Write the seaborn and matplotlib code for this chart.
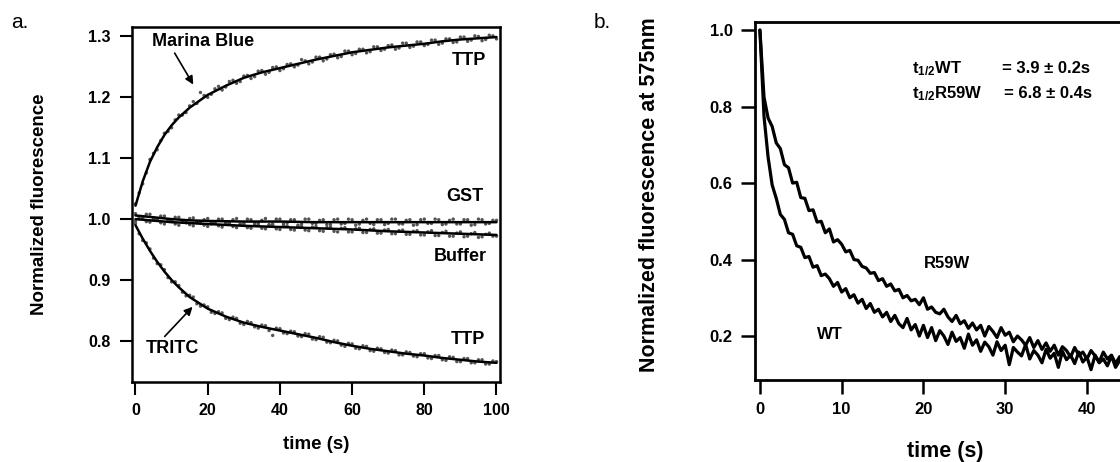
import numpy as np
import pandas as pd
import matplotlib
matplotlib.use("Agg")
import matplotlib.pyplot as plt
import seaborn as sns
from matplotlib.ticker import FormatStrFormatter

# ---------------- Panel a data ----------------
fit_t = [0, 2, 4, 6, 8, 10, 12, 15, 20, 25, 30, 35, 40, 45, 50, 55, 60, 65, 70, 75, 80, 85, 90, 95, 100]
marina_fit = [1.022, 1.062, 1.094, 1.118, 1.138, 1.154, 1.167, 1.183, 1.204, 1.219, 1.232, 1.241, 1.248,
              1.255, 1.262, 1.268, 1.274, 1.278, 1.282, 1.285, 1.288, 1.292, 1.295, 1.297, 1.299]
tritc_fit = [0.990, 0.968, 0.948, 0.930, 0.914, 0.900, 0.888, 0.872, 0.853, 0.840, 0.830, 0.823, 0.817,
             0.811, 0.805, 0.798, 0.792, 0.787, 0.783, 0.779, 0.776, 0.772, 0.769, 0.766, 0.764]
gst_t = [0, 5, 10, 15, 20, 30, 40, 50, 60, 70, 80, 90, 100]
gst_fit = [1.006, 1.003, 1.000, 0.998, 0.997, 0.996, 0.996, 0.995, 0.995, 0.995, 0.995, 0.995, 0.995]
buffer_t = [0, 10, 20, 30, 40, 50, 60, 70, 80, 90, 100]
buffer_fit = [1.000, 0.995, 0.992, 0.989, 0.987, 0.985, 0.983, 0.980, 0.978, 0.976, 0.974]

dot_t_even = list(range(0, 101, 2))
dot_t_odd = list(range(1, 100, 2))
marina_dots_even = [1.025, 1.058, 1.098, 1.114, 1.141, 1.150, 1.171, 1.175, 1.193, 1.208,
                    1.200, 1.214, 1.212, 1.226, 1.223, 1.235, 1.231, 1.243, 1.238, 1.249,
                    1.244, 1.254, 1.250, 1.262, 1.255, 1.266, 1.260, 1.270, 1.265, 1.276,
                    1.270, 1.279, 1.273, 1.283, 1.277, 1.285, 1.279, 1.289, 1.282, 1.291,
                    1.285, 1.294, 1.287, 1.296, 1.290, 1.299, 1.292, 1.301, 1.293, 1.302, 1.296]
marina_dots_odd = [1.043, 1.076, 1.108, 1.129, 1.144, 1.163, 1.171, 1.186, 1.190, 1.203,
                   1.205, 1.218, 1.217, 1.228, 1.226, 1.236, 1.234, 1.244, 1.241, 1.250,
                   1.247, 1.255, 1.253, 1.260, 1.258, 1.266, 1.263, 1.271, 1.267, 1.276,
                   1.272, 1.279, 1.275, 1.283, 1.279, 1.286, 1.281, 1.289, 1.284, 1.291,
                   1.287, 1.294, 1.289, 1.296, 1.291, 1.299, 1.294, 1.300, 1.295, 1.301]
tritc_dots_even = [0.993, 0.965, 0.951, 0.927, 0.917, 0.897, 0.891, 0.874, 0.872, 0.857,
                   0.856, 0.845, 0.846, 0.835, 0.837, 0.827, 0.830, 0.821, 0.825, 0.809,
                   0.820, 0.812, 0.815, 0.807, 0.811, 0.802, 0.806, 0.797, 0.800, 0.791,
                   0.795, 0.787, 0.791, 0.783, 0.787, 0.780, 0.784, 0.777, 0.781, 0.774,
                   0.779, 0.771, 0.776, 0.768, 0.773, 0.766, 0.771, 0.764, 0.769, 0.762, 0.766]
tritc_dots_odd = [0.976, 0.961, 0.936, 0.925, 0.904, 0.897, 0.880, 0.875, 0.861, 0.859,
                  0.847, 0.848, 0.837, 0.839, 0.829, 0.832, 0.823, 0.826, 0.817, 0.821,
                  0.813, 0.816, 0.808, 0.812, 0.803, 0.807, 0.798, 0.801, 0.793, 0.796,
                  0.788, 0.792, 0.784, 0.788, 0.781, 0.785, 0.777, 0.782, 0.775, 0.779,
                  0.772, 0.776, 0.769, 0.774, 0.766, 0.771, 0.764, 0.769, 0.762, 0.767]
gst_dots_even = [1.009, 1.002, 1.008, 0.999, 1.005, 0.996, 1.003, 0.994, 1.002, 0.993,
                 1.001, 0.994, 1.000, 0.993, 1.001, 0.992, 0.999, 0.993, 1.001, 0.992,
                 1.000, 0.994, 0.999, 0.992, 1.000, 0.993, 0.999, 0.991, 1.000, 0.993,
                 0.999, 0.992, 1.000, 0.991, 0.999, 0.993, 1.000, 0.992, 0.999, 0.991,
                 1.000, 0.993, 0.999, 0.992, 1.000, 0.992, 0.999, 0.991, 0.999, 0.993, 0.998]
gst_dots_odd = [1.004, 1.008, 1.001, 1.005, 0.997, 1.003, 0.995, 1.001, 0.994, 0.999,
                0.992, 1.000, 0.993, 0.999, 0.991, 1.000, 0.993, 0.998, 0.991, 1.000,
                0.992, 0.999, 0.990, 1.000, 0.993, 0.998, 0.991, 0.999, 0.992, 1.000,
                0.990, 0.998, 0.993, 0.999, 0.991, 1.000, 0.992, 0.998, 0.990, 0.999,
                0.993, 1.000, 0.991, 0.998, 0.992, 0.999, 0.990, 1.000, 0.992, 0.998]
buffer_dots_even = [0.997, 1.003, 0.995, 1.000, 0.992, 0.998, 0.990, 0.996, 0.989, 0.995,
                    0.988, 0.994, 0.987, 0.993, 0.986, 0.992, 0.985, 0.991, 0.984, 0.990,
                    0.983, 0.989, 0.982, 0.988, 0.981, 0.988, 0.980, 0.987, 0.979, 0.986,
                    0.979, 0.985, 0.978, 0.984, 0.977, 0.983, 0.976, 0.982, 0.975, 0.981,
                    0.974, 0.981, 0.973, 0.980, 0.972, 0.979, 0.972, 0.978, 0.971, 0.977, 0.972]
buffer_dots_odd = [1.001, 0.996, 0.999, 0.994, 0.998, 0.992, 0.997, 0.991, 0.995, 0.990,
                   0.994, 0.989, 0.993, 0.988, 0.992, 0.986, 0.991, 0.985, 0.990, 0.984,
                   0.989, 0.983, 0.988, 0.982, 0.987, 0.981, 0.986, 0.980, 0.985, 0.979,
                   0.984, 0.978, 0.983, 0.977, 0.982, 0.976, 0.981, 0.975, 0.980, 0.974,
                   0.979, 0.973, 0.978, 0.972, 0.977, 0.971, 0.976, 0.970, 0.975, 0.972]
a_yticks = [0.8, 0.9, 1.0, 1.1, 1.2, 1.3]
a_xticks = [0, 20, 40, 60, 80, 100]

# ---------------- Panel b data ----------------
trace_t = list(np.arange(0, 50, 0.5))
wt_trace = [1.000, 0.775, 0.668, 0.595, 0.560, 0.518, 0.505, 0.470, 0.466, 0.436,
            0.432, 0.405, 0.408, 0.380, 0.384, 0.358, 0.362, 0.350, 0.330, 0.340,
            0.315, 0.324, 0.300, 0.308, 0.286, 0.296, 0.272, 0.285, 0.262, 0.270,
            0.250, 0.262, 0.238, 0.254, 0.232, 0.222, 0.246, 0.216, 0.230, 0.200,
            0.228, 0.196, 0.222, 0.188, 0.214, 0.200, 0.178, 0.210, 0.186, 0.196,
            0.168, 0.205, 0.176, 0.190, 0.160, 0.184, 0.172, 0.150, 0.185, 0.162,
            0.176, 0.125, 0.170, 0.158, 0.148, 0.178, 0.140, 0.162, 0.150, 0.130,
            0.165, 0.142, 0.155, 0.118, 0.160, 0.138, 0.150, 0.128, 0.158, 0.132,
            0.145, 0.112, 0.150, 0.130, 0.140, 0.122, 0.148, 0.118, 0.136, 0.142,
            0.115, 0.138, 0.126, 0.110, 0.140, 0.122, 0.130, 0.112, 0.134, 0.120]
r59w_trace = [1.000, 0.825, 0.770, 0.748, 0.705, 0.690, 0.648, 0.640, 0.600, 0.602,
              0.562, 0.560, 0.528, 0.530, 0.498, 0.500, 0.470, 0.480, 0.446, 0.452,
              0.440, 0.420, 0.424, 0.400, 0.398, 0.382, 0.378, 0.364, 0.366, 0.345,
              0.350, 0.330, 0.336, 0.318, 0.322, 0.300, 0.306, 0.292, 0.296, 0.282,
              0.300, 0.270, 0.276, 0.262, 0.258, 0.270, 0.250, 0.238, 0.254, 0.232,
              0.240, 0.220, 0.234, 0.216, 0.228, 0.200, 0.225, 0.212, 0.196, 0.222,
              0.202, 0.210, 0.185, 0.200, 0.190, 0.176, 0.196, 0.170, 0.188, 0.165,
              0.182, 0.160, 0.176, 0.150, 0.172, 0.162, 0.145, 0.170, 0.150, 0.158,
              0.140, 0.162, 0.148, 0.132, 0.158, 0.140, 0.150, 0.128, 0.146, 0.135,
              0.142, 0.125, 0.140, 0.130, 0.120, 0.138, 0.126, 0.134, 0.118, 0.130]
b_yticks = [0.2, 0.4, 0.6, 0.8, 1.0]
b_xticks = [0, 10, 20, 30, 40]

# ---------------- Style ----------------
sns.set_style("ticks")
plt.rcParams['font.family'] = ['Liberation Sans', 'DejaVu Sans']
plt.rcParams['font.weight'] = 'bold'
plt.rcParams['mathtext.fontset'] = 'custom'
plt.rcParams['mathtext.rm'] = 'Liberation Sans:bold'
plt.rcParams['mathtext.it'] = 'Liberation Sans:bold'
plt.rcParams['mathtext.bf'] = 'Liberation Sans:bold'
for k in ['text.color', 'axes.labelcolor', 'xtick.color', 'ytick.color', 'axes.edgecolor']:
    plt.rcParams[k] = 'black'

fig = plt.figure(figsize=(11.2, 4.62), dpi=100)
W, H = 1120.0, 462.0

def rect(x0, y0, x1, y1):
    return [x0 / W, 1 - y1 / H, (x1 - x0) / W, (y1 - y0) / H]

ax1 = fig.add_axes(rect(131.7, 26.7, 500.0, 381.7))
ax2 = fig.add_axes(rect(755.0, 21.7, 1136.0, 380.0))

# ---- panel a ----
de = pd.DataFrame({"t": dot_t_even, "mb": marina_dots_even, "tr": tritc_dots_even,
                   "gst": gst_dots_even, "buf": buffer_dots_even})
do = pd.DataFrame({"t": dot_t_odd, "mb": marina_dots_odd, "tr": tritc_dots_odd,
                   "gst": gst_dots_odd, "buf": buffer_dots_odd})
for d in (de, do):
    for col in ["mb", "tr", "gst", "buf"]:
        sns.scatterplot(data=d, x="t", y=col, ax=ax1, s=6, color="#555555",
                        edgecolor="none", linewidth=0, zorder=2)
for tt, yy in [(fit_t, marina_fit), (fit_t, tritc_fit), (gst_t, gst_fit), (buffer_t, buffer_fit)]:
    sns.lineplot(x=tt, y=yy, ax=ax1, color="black", lw=1.8, zorder=3)

ax1.set_xlim(-1.05, 100.97)
ax1.set_ylim(0.733, 1.316)
ax1.set_xticks(a_xticks)
ax1.set_yticks(a_yticks)
ax1.yaxis.set_major_formatter(FormatStrFormatter('%.1f'))
for s in ax1.spines.values():
    s.set_linewidth(1.8)
    s.set_visible(True)
ax1.tick_params(direction='out', length=9, width=1.5, pad=6, labelsize=11.5)
ax1.set_xlabel("time (s)", fontsize=13.5, fontweight='bold')
ax1.set_ylabel("Normalized fluorescence", fontsize=13.5, fontweight='bold')
ax1.xaxis.set_label_coords(0.5, -0.177)
ax1.xaxis.label.set_va('center')
ax1.yaxis.set_label_coords(-0.249, 0.5)
ax1.yaxis.label.set_va('center')

tk = dict(fontsize=13, fontweight='bold', ha='center', va='center')
ax1.annotate("Marina Blue", xy=(16.0, 1.221), xytext=(18.8, 1.292),
             arrowprops=dict(arrowstyle='-|>', color='black', lw=1.2, mutation_scale=12,
                             shrinkA=0, shrinkB=0, relpos=(0.2, 0.0)), **tk)
ax1.annotate("TRITC", xy=(15.8, 0.856), xytext=(10.2, 0.788),
             arrowprops=dict(arrowstyle='-|>', color='black', lw=1.2, mutation_scale=12,
                             shrinkA=0, shrinkB=0, relpos=(0.3, 1.0)), **tk)
ax1.text(92.3, 1.260, "TTP", **tk)
ax1.text(91.3, 1.037, "GST", **tk)
ax1.text(90.0, 0.938, "Buffer", **tk)
ax1.text(92.0, 0.802, "TTP", **tk)

# ---- panel b ----
db = pd.DataFrame({"t": trace_t, "wt": wt_trace, "r59w": r59w_trace})
sns.lineplot(data=db, x="t", y="wt", ax=ax2, color="black", lw=2.3)
sns.lineplot(data=db, x="t", y="r59w", ax=ax2, color="black", lw=2.3)
ax2.set_xlim(-0.6, 46.0)
ax2.set_ylim(0.085, 1.022)
ax2.set_xticks(b_xticks)
ax2.set_yticks(b_yticks)
ax2.yaxis.set_major_formatter(FormatStrFormatter('%.1f'))
for s in ax2.spines.values():
    s.set_linewidth(2.0)
ax2.tick_params(direction='out', length=10, width=1.8, pad=6, labelsize=12)
ax2.set_xlabel("time (s)", fontsize=15.5, fontweight='bold')
ax2.set_ylabel("Normalized fluorescence at 575nm", fontsize=15.5, fontweight='bold')
ax2.xaxis.set_label_coords(0.5, -0.2)
ax2.xaxis.label.set_va('center')
ax2.yaxis.set_label_coords(-0.277, 0.516)
ax2.yaxis.label.set_va('center')

tb = dict(fontsize=12, fontweight='bold', va='baseline', ha='left')
ax2.text(18.6, 0.888, "t$_{1/2}$WT", **tb)
ax2.text(29.6, 0.888, "= 3.9 ± 0.2s", **tb)
ax2.text(18.6, 0.822, "t$_{1/2}$R59W", **tb)
ax2.text(29.8, 0.822, "= 6.8 ± 0.4s", **tb)
ax2.text(22.9, 0.39, "R59W", fontsize=12, fontweight='bold', ha='center', va='center')
ax2.text(8.5, 0.203, "WT", fontsize=12, fontweight='bold', ha='center', va='center')

fig.text(11 / W, 1 - 22 / H, "a.", fontsize=15, fontweight='normal', ha='left', va='center')
fig.text(594 / W, 1 - 23 / H, "b.", fontsize=15, fontweight='normal', ha='left', va='center')

fig.savefig("out.png", dpi=100)
